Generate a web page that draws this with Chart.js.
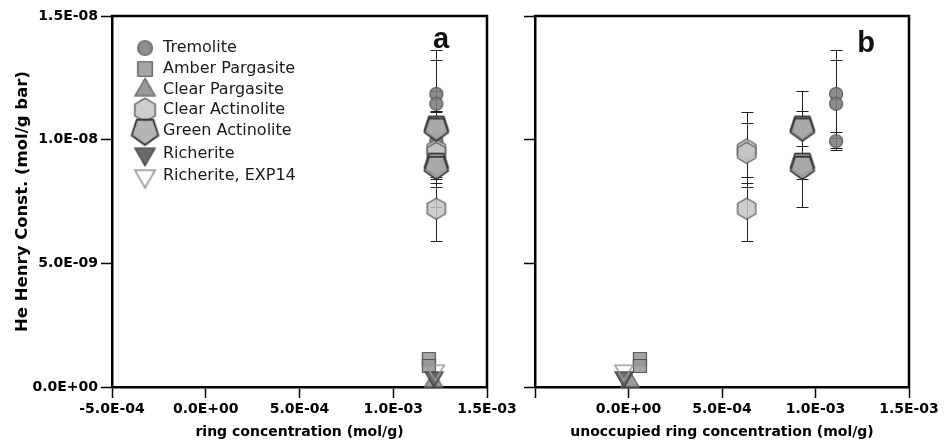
<!DOCTYPE html>
<html>
<head>
<meta charset="utf-8">
<script src="https://cdn.jsdelivr.net/npm/chart.js@4.4.0/dist/chart.umd.min.js"></script>
<style>
  html, body { margin: 0; padding: 0; background: #fff; }
  #wrap { position: relative; width: 948px; height: 441px; overflow: hidden; }
  #chartA { position: absolute; left: 0; top: 0; width: 530px; height: 441px; }
  #chartB { position: absolute; left: 520px; top: 0; width: 428px; height: 441px; }
</style>
</head>
<body>
<div id="wrap">
  <canvas id="chartA" width="530" height="441"></canvas>
  <canvas id="chartB" width="428" height="441"></canvas>
</div>
<script>
// ---- data ---------------------------------------------------------------
const seriesNames = ['Tremolite', 'Amber Pargasite', 'Clear Pargasite', 'Clear Actinolite',
                     'Green Actinolite', 'Richerite', 'Richerite, EXP14'];

// He Henry constants (mol/g bar) with their uncertainties, per mineral
const tremoliteK      = [1.185e-8, 1.145e-8, 9.94e-9];
const tremoliteErr    = [1.79e-9, 1.79e-9, 3.6e-10];
const amberPargK      = [1.13e-9, 8.5e-10];
const amberPargErr    = [0, 0];
const clearPargK      = [2.1e-10];
const clearPargErr    = [0];
const clearActK       = [9.60e-9, 9.47e-9, 7.21e-9];
const clearActErr     = [1.53e-9, 1.22e-9, 1.30e-9];
const greenActK       = [1.053e-8, 1.045e-8, 9.03e-9, 8.90e-9];
const greenActErr     = [1.45e-9, 7.2e-10, 1.74e-9, 5.0e-10];
const richeriteK      = [4.0e-10];
const richeriteErr    = [0];
const richeriteExpK   = [6.7e-10];
const richeriteExpErr = [0];

// ring concentration (mol/g), panel a
const ringConc      = [1.23e-3, 1.19e-3, 1.215e-3, 1.23e-3, 1.23e-3, 1.218e-3, 1.224e-3];
// unoccupied ring concentration (mol/g), panel b
const unoccRingConc = [1.11e-3, 6.1e-5, 8e-6, 6.32e-4, 9.3e-4, -2.4e-5, -2.4e-5];

const xTickLabelsA = ['-5.0E-04', '0.0E+00', '5.0E-04', '1.0E-03', '1.5E-03'];
const xTickLabelsB = ['', '0.0E+00', '5.0E-04', '1.0E-03', '1.5E-03'];
const yTickLabelsA = ['0.0E+00', '5.0E-09', '1.0E-08', '1.5E-08'];
const yTickLabelsB = ['', '', '', ''];

const henryValues = [tremoliteK, amberPargK, clearPargK, clearActK, greenActK, richeriteK, richeriteExpK];
const henryErrors = [tremoliteErr, amberPargErr, clearPargErr, clearActErr, greenActErr, richeriteErr, richeriteExpErr];

// ---- marker appearance ----------------------------------------------------
const markerStyles = [
  { shape: 'circle',  r: 6.5,  fill: 'rgba(128,128,128,0.88)', stroke: '#555', lw: 1.2 },
  { shape: 'square',  r: 6.5,  fill: 'rgba(152,152,152,0.88)', stroke: '#555', lw: 1.2 },
  { shape: 'triUp',   r: 10.4, fill: 'rgba(140,140,140,0.88)', stroke: '#666', lw: 1.2 },
  { shape: 'hex',     r: 10.5, fill: 'rgba(198,198,198,0.85)', stroke: '#555', lw: 1.2 },
  { shape: 'pent',    r: 12.5, fill: 'rgba(168,168,168,0.85)', stroke: '#333', lw: 1.6 },
  { shape: 'triDown', r: 10.4, fill: 'rgba(95,95,95,0.92)',    stroke: '#444', lw: 1.2 },
  { shape: 'triDown', r: 10.4, fill: null,                     stroke: '#9a9a9a', lw: 1.6 }
];

function makeMarker(st) {
  let d = Math.ceil(2 * st.r + st.lw + 4);
  if (d % 2) d += 1;
  const c = document.createElement('canvas');
  c.width = d; c.height = d;
  const g = c.getContext('2d');
  const cx = d / 2, cy = d / 2, r = st.r;
  g.beginPath();
  if (st.shape === 'circle') {
    g.arc(cx, cy, r, 0, Math.PI * 2);
  } else if (st.shape === 'square') {
    g.rect(cx - r, cy - r, 2 * r, 2 * r);
  } else {
    const sides = { triUp: 3, triDown: 3, hex: 6, pent: 5 }[st.shape];
    const start = { triUp: -90, triDown: 90, hex: -90, pent: 90 }[st.shape] * Math.PI / 180;
    for (let k = 0; k < sides; k++) {
      const a = start + k * 2 * Math.PI / sides;
      const px = cx + r * Math.cos(a), py = cy + r * Math.sin(a);
      if (k === 0) g.moveTo(px, py); else g.lineTo(px, py);
    }
  }
  g.closePath();
  if (st.fill) { g.fillStyle = st.fill; g.fill(); }
  g.lineJoin = 'miter';
  g.lineWidth = st.lw;
  g.strokeStyle = st.stroke;
  g.stroke();
  return c;
}
const markerCanvases = markerStyles.map(makeMarker);

// ---- plugins ----------------------------------------------------------------
const errorBarPlugin = {
  id: 'errorBars',
  beforeDatasetsDraw(chart) {
    const { ctx, scales: { x, y } } = chart;
    ctx.save();
    ctx.strokeStyle = '#222';
    ctx.lineWidth = 1;
    chart.data.datasets.forEach(ds => {
      ds.data.forEach((p, j) => {
        const e = ds.errors[j];
        if (!e) return;
        const px = Math.round(x.getPixelForValue(p.x)) + 0.5;
        const y1 = Math.round(y.getPixelForValue(p.y + e)) + 0.5;
        const y2 = Math.round(y.getPixelForValue(p.y - e)) + 0.5;
        ctx.beginPath();
        ctx.moveTo(px, y1); ctx.lineTo(px, y2);
        ctx.moveTo(px - 6, y1); ctx.lineTo(px + 6, y1);
        ctx.moveTo(px - 6, y2); ctx.lineTo(px + 6, y2);
        ctx.stroke();
      });
    });
    ctx.restore();
  }
};

const framePlugin = {
  id: 'frame',
  afterDatasetsDraw(chart) {
    const { ctx, chartArea: a } = chart;
    ctx.save();
    ctx.strokeStyle = '#000';
    ctx.lineWidth = 2.5;
    ctx.beginPath();
    ctx.moveTo(a.left - 1.25, a.top);
    ctx.lineTo(a.right, a.top);
    ctx.lineTo(a.right, a.bottom + 1.25);
    ctx.stroke();
    ctx.restore();
  }
};

const panelLetterPlugin = {
  id: 'panelLetter',
  afterDraw(chart, args, opts) {
    const { ctx, chartArea: a } = chart;
    ctx.save();
    ctx.font = "bold 29px 'Liberation Sans'";
    ctx.fillStyle = '#111';
    ctx.textAlign = 'center';
    ctx.textBaseline = 'alphabetic';
    ctx.fillText(opts.text, a.right - opts.dx, a.top + opts.dy);
    ctx.restore();
  }
};

// legend row offsets below the top of the plot area
const legendRowOffsets = [32, 53, 74, 94, 115, 138, 160];
const legendPlugin = {
  id: 'mineralLegend',
  afterDraw(chart) {
    const { ctx, chartArea: a } = chart;
    ctx.save();
    ctx.font = "16px 'DejaVu Sans'";
    ctx.fillStyle = '#1a1a1a';
    ctx.textAlign = 'left';
    ctx.textBaseline = 'middle';
    seriesNames.forEach((name, i) => {
      const yc = a.top + legendRowOffsets[i];
      const m = markerCanvases[i];
      const s = 1.12, w = m.width * s, h = m.height * s;
      ctx.drawImage(m, a.left + 33 - w / 2, yc - h / 2, w, h);
      ctx.fillText(name, a.left + 51, yc);
    });
    ctx.restore();
  }
};

// ---- chart builders -----------------------------------------------------------
Chart.defaults.font.family = "'DejaVu Sans'";
Chart.defaults.color = '#000';

const tickFont = { family: "'DejaVu Sans'", weight: 'bold', size: 14 };

function buildDatasets(xs) {
  return seriesNames.map((name, i) => ({
    label: name,
    data: henryValues[i].map(v => ({ x: xs[i], y: v })),
    errors: henryErrors[i],
    pointStyle: markerCanvases[i],
    pointRadius: 10,
    showLine: false,
    clip: false,
    order: -i
  }));
}

function xAxis(labels, title) {
  return {
    type: 'linear', position: 'bottom', min: -5e-4, max: 1.5e-3,
    border: { display: true, color: '#000', width: 2.5 },
    grid: { display: true, drawOnChartArea: false, drawTicks: true, tickLength: 11, tickWidth: 1.5, tickColor: '#000' },
    ticks: { stepSize: 5e-4, autoSkip: false, maxRotation: 0, minRotation: 0, padding: 3, color: '#000',
             font: tickFont, callback: (v, i) => labels[i] },
    title: { display: true, text: title, color: '#000', font: tickFont, padding: { top: 0, bottom: 0 } },
    afterFit: s => { s.height = 54; }
  };
}

function yAxis(labels, width, title) {
  return {
    type: 'linear', position: 'left', min: 0, max: 1.5e-8,
    border: { display: true, color: '#000', width: 2.5 },
    grid: { display: true, drawOnChartArea: false, drawTicks: true, tickLength: 11, tickWidth: 1.5, tickColor: '#000' },
    ticks: { stepSize: 5e-9, autoSkip: false, padding: 3, color: '#000', font: tickFont,
             callback: (v, i) => labels[i] },
    title: title ? { display: true, text: title, color: '#000',
                     font: { family: "'DejaVu Sans'", weight: 'bold', size: 16.5 }, padding: { top: 13, bottom: 0 } }
                 : { display: false },
    afterFit: s => { s.width = width; }
  };
}

function commonOptions(xs, ys, padRight, letter) {
  return {
    type: 'scatter',
    options: {
      responsive: false,
      animation: false,
      events: [],
      layout: { autoPadding: false, padding: { left: 0, top: 16, right: padRight, bottom: 0 } },
      scales: { x: xs, y: ys },
      plugins: {
        legend: { display: false },
        tooltip: { enabled: false },
        panelLetter: letter
      }
    }
  };
}

const cfgA = commonOptions(
  xAxis(xTickLabelsA, 'ring concentration (mol/g)'),
  yAxis(yTickLabelsA, 112, 'He Henry Const. (mol/g bar)'),
  43, { text: 'a', dx: 46, dy: 32 });
cfgA.data = { datasets: buildDatasets(ringConc) };
cfgA.plugins = [errorBarPlugin, framePlugin, panelLetterPlugin, legendPlugin];
new Chart(document.getElementById('chartA'), cfgA);

const cfgB = commonOptions(
  xAxis(xTickLabelsB, 'unoccupied ring concentration (mol/g)'),
  yAxis(yTickLabelsB, 15, null),
  39, { text: 'b', dx: 43, dy: 36 });
cfgB.data = { datasets: buildDatasets(unoccRingConc) };
cfgB.plugins = [errorBarPlugin, framePlugin, panelLetterPlugin];
new Chart(document.getElementById('chartB'), cfgB);
</script>
</body>
</html>
